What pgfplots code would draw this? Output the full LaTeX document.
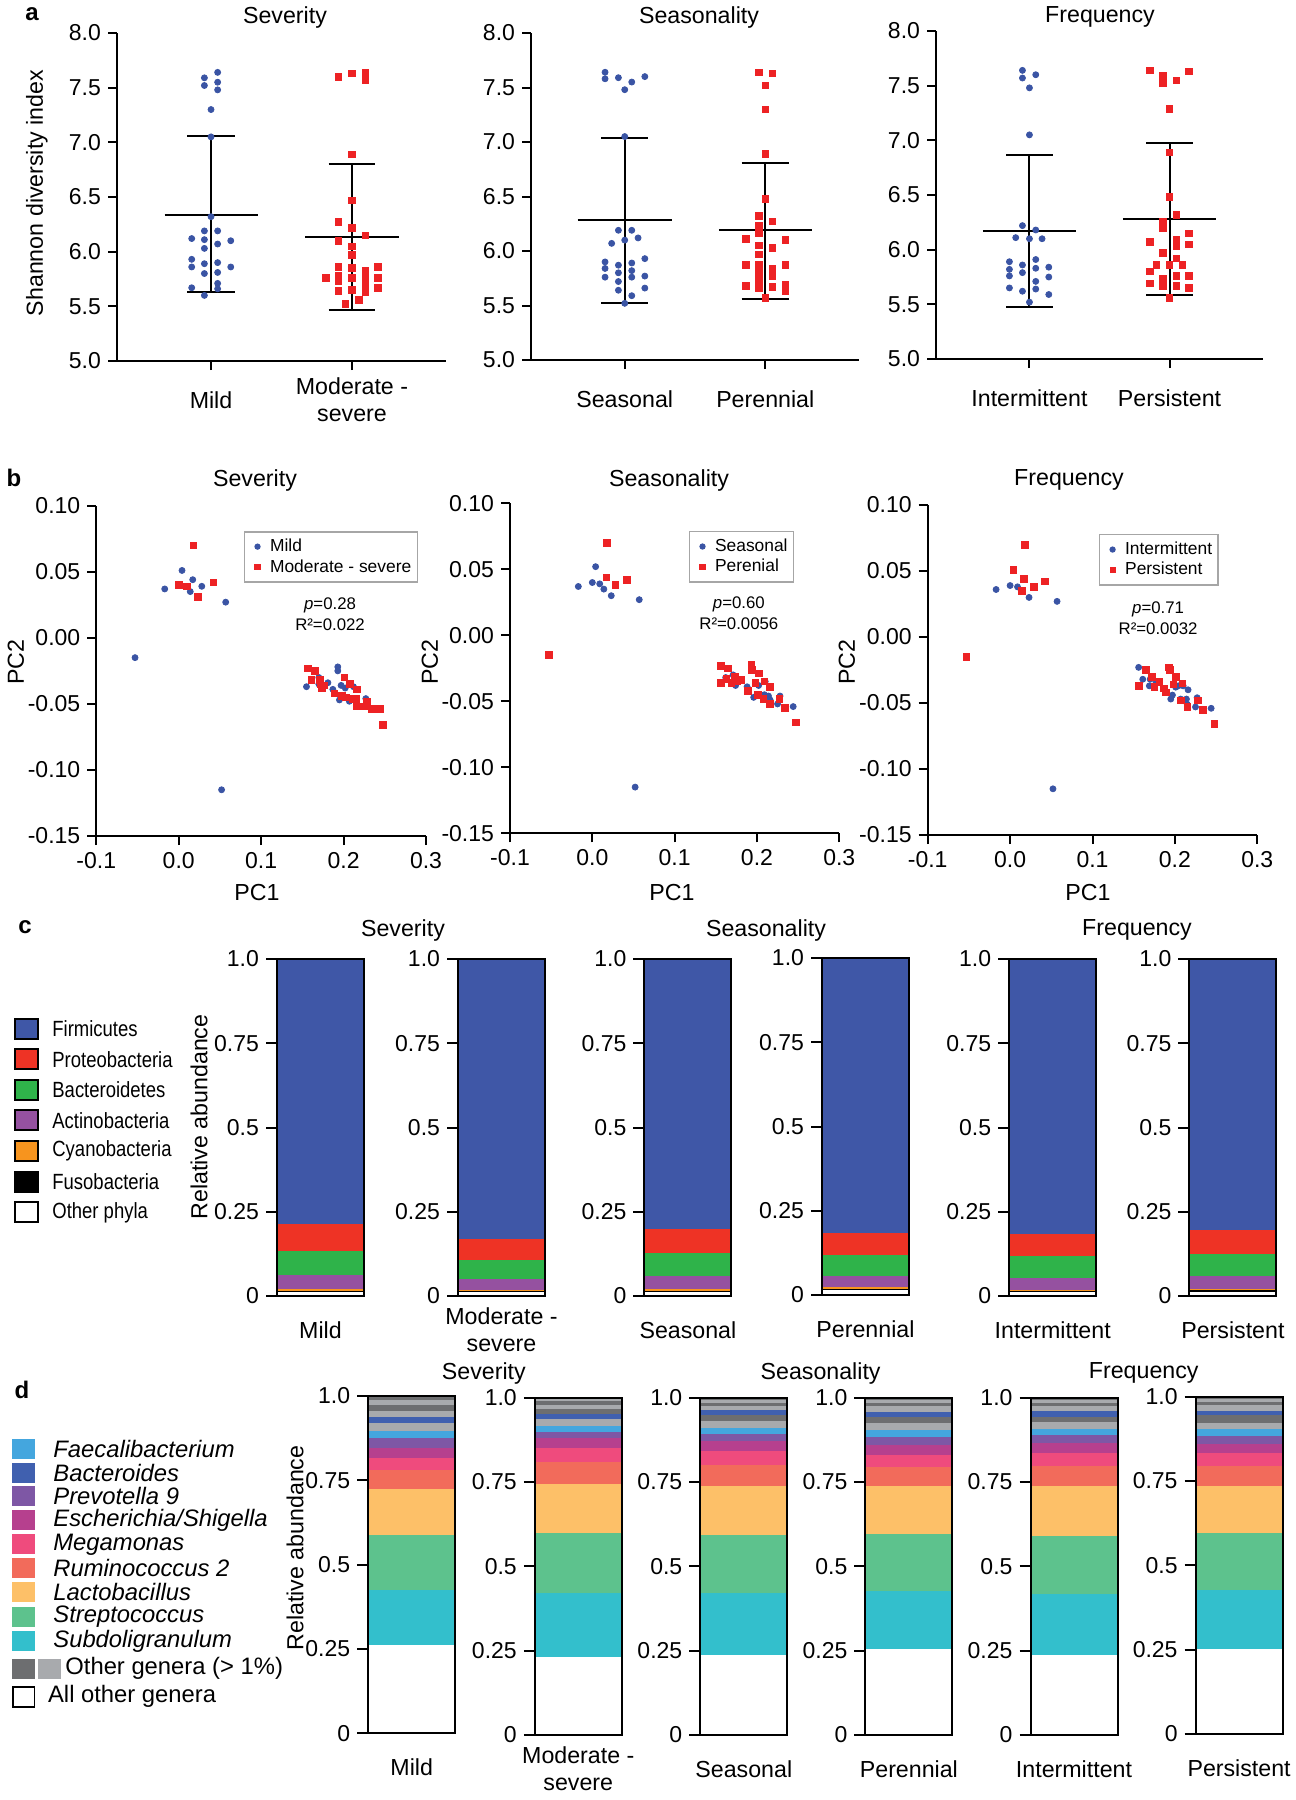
\documentclass[border=0pt]{standalone}
\usepackage{fontspec}
\setmainfont{Liberation Sans}
\newfontfamily\narrowfont[FakeStretch=0.84]{Liberation Sans}
\usepackage{pgfplots}
\pgfplotsset{compat=1.18}

\definecolor{dblue}{HTML}{3A54A4}
\definecolor{dred}{HTML}{ED2224}
\definecolor{cfirm}{HTML}{3F57A7}
\definecolor{cprot}{HTML}{EE3325}
\definecolor{cbact}{HTML}{2FB34A}
\definecolor{cacti}{HTML}{9551A0}
\definecolor{ccyan}{HTML}{F7941E}
\definecolor{cfae}{HTML}{44A6DE}
\definecolor{cbac}{HTML}{4060AF}
\definecolor{cpre}{HTML}{7E57A5}
\definecolor{cesc}{HTML}{B6408E}
\definecolor{cmeg}{HTML}{EF4B7D}
\definecolor{crum}{HTML}{F26B5B}
\definecolor{clac}{HTML}{FDC068}
\definecolor{cstr}{HTML}{5DC28D}
\definecolor{csub}{HTML}{33BFCC}
\definecolor{dgray}{HTML}{6D6E70}
\definecolor{lgray}{HTML}{A8AAAD}

\newcommand{\fsmain}{\fontsize{11.6}{13.6}\selectfont}
\newcommand{\fstick}{\fontsize{11.5}{13.5}\selectfont}
\newcommand{\fsleg}{\fontsize{8.7}{10}\selectfont}
\newcommand{\fsp}{\fontsize{8.4}{10}\selectfont}
\newcommand{\fscleg}{\narrowfont\fontsize{11}{12}\selectfont}
\newcommand{\fsdleg}{\fontsize{11.9}{13.5}\selectfont}

\pgfplotsset{
  common/.style={scale only axis, axis lines*=left, axis line style={line width=1pt, black},
    tick style={black, line width=1pt}, tick align=outside,
    tick label style={font=\fstick}, clip=false},
  aax/.style={common, xmin=-0.667, xmax=1.667, ymin=5, ymax=8, major tick length=4.5pt,
    xtick={0,1}, ytick={5,5.5,6,6.5,7,7.5,8}, yticklabels={5.0,5.5,6.0,6.5,7.0,7.5,8.0},
    xticklabel style={font=\fsmain, anchor=center, align=center, yshift=-15pt}},
  bax/.style={common, xmin=-0.1, xmax=0.3, ymin=-0.15, ymax=0.1, major tick length=4.5pt,
    xtick={-0.1,0,0.1,0.2,0.3}, xticklabels={-0.1,0.0,0.1,0.2,0.3},
    ytick={-0.15,-0.1,-0.05,0,0.05,0.1}, yticklabels={-0.15,-0.10,-0.05,0.00,0.05,0.10},
    legend style={font=\fsleg, draw=gray!70, line width=0.7pt, inner xsep=1pt, inner ysep=1.5pt, anchor=north west, row sep=-1.5pt},
    legend cell align=left,
    legend image code/.code={\path[draw=none, fill=none] (0cm,0cm) -- (0.34cm,0cm); \draw[##1, only marks, mark size=1.2pt] plot coordinates {(0.19cm,0cm)};}},
  barax/.style={common, width=43.5pt, height=168.5pt, xmin=-0.5, xmax=0.5, ymin=0, ymax=1,
    major tick length=5.5pt, ytick={0,0.25,0.5,0.75,1}, yticklabels={0,0.25,0.5,0.75,1.0},
    xtick=\empty, xlabel style={font=\fsmain, anchor=center, align=center, at={(axis description cs:0.5,0)}, yshift=-17pt}},
  seg/.style={ybar, bar width=1, bar shift=0pt, fill=#1, draw=none},
  outl/.style={ybar, bar width=1, bar shift=0pt, fill=none, draw=black, line width=1pt},
  bm/.style={only marks, mark=*, mark size=1.5pt, color=dblue},
  rm/.style={only marks, mark=square*, mark size=1.65pt, color=dred},
  sd/.style={black, line width=1pt, no marks},
}

\begin{document}
\begin{tikzpicture}
\path[use as bounding box] (0,0) rectangle (648pt,-900pt);

%================ Panel a =================
\node[font=\bfseries\fontsize{12}{14}\selectfont] at (16pt,-7pt) {a};
\node[font=\fsmain] at (142.5pt,-8.5pt) {Severity};
\node[font=\fsmain] at (349.5pt,-8.5pt) {Seasonality};
\node[font=\fsmain] at (550pt,-8.5pt) {Frequency};
\node[font=\fsmain, rotate=90] at (18.5pt,-96.5pt) {Shannon diversity index};

\begin{axis}[aax, at={(58.5pt,-180.5pt)}, width=164.5pt, height=164pt, xticklabels={Mild,{Moderate -\\severe}}]
\addplot[bm] coordinates {(0.047,7.64) (-0.047,7.59) (0.047,7.55) (-0.047,7.52) (0.047,7.48) (0,7.30) (0,7.05) (0,6.32) (-0.047,6.19) (0.047,6.19) (-0.137,6.12) (-0.047,6.11) (0.14,6.10) (0.047,6.07) (-0.047,6.03) (-0.137,5.93) (0.047,5.90) (-0.047,5.89) (-0.137,5.86) (0.14,5.86) (0.047,5.81) (-0.047,5.80) (0.047,5.71) (-0.137,5.67) (0.047,5.66) (-0.047,5.60)};
\addplot[rm] coordinates {(0.905,7.60) (1,7.63) (1.095,7.64) (1.095,7.57) (1,6.89) (1,6.47) (0.905,6.27) (1,6.22) (1.095,6.15) (0.905,6.10) (1,6.05) (1,5.97) (0.905,5.86) (1.184,5.86) (1,5.85) (1.095,5.83) (0.813,5.76) (0.905,5.78) (1,5.76) (1.095,5.76) (1.184,5.76) (0.905,5.73) (1.095,5.70) (1,5.65) (1.184,5.67) (0.905,5.64) (1.095,5.63) (1.047,5.56) (0.953,5.52)};
\addplot[sd] coordinates {(-0.33,6.34) (0.33,6.34)};
\addplot[sd] coordinates {(0,5.63) (0,7.06)};
\addplot[sd] coordinates {(-0.168,7.06) (0.168,7.06)};
\addplot[sd] coordinates {(-0.168,5.63) (0.168,5.63)};
\addplot[sd] coordinates {(0.67,6.13) (1.33,6.13)};
\addplot[sd] coordinates {(1,5.47) (1,6.80)};
\addplot[sd] coordinates {(0.835,6.80) (1.165,6.80)};
\addplot[sd] coordinates {(0.835,5.47) (1.165,5.47)};
\end{axis}

\begin{axis}[aax, at={(265.5pt,-180pt)}, width=164pt, height=163.5pt, xticklabels={Seasonal,Perennial}]
\addplot[bm] coordinates {(-0.14,7.64) (-0.14,7.58) (-0.045,7.59) (0.05,7.55) (0.143,7.60) (0,7.48) (0,7.05) (-0.045,6.19) (0.05,6.19) (0.095,6.12) (0,6.10) (-0.093,6.07) (-0.14,5.90) (0.143,5.93) (-0.045,5.87) (0.05,5.89) (-0.14,5.84) (0.05,5.82) (-0.045,5.80) (-0.14,5.76) (0.05,5.76) (0.143,5.77) (-0.045,5.72) (-0.045,5.64) (0.143,5.66) (0.05,5.59) (0,5.52)};
\addplot[rm] coordinates {(0.955,7.64) (1.05,7.63) (1,7.52) (1,7.30) (1,6.89) (1,6.48) (0.955,6.32) (1.05,6.27) (0.955,6.23) (0.955,6.16) (0.862,6.11) (1.143,6.10) (0.955,6.05) (1.05,6.03) (0.955,5.97) (0.862,5.87) (0.955,5.87) (1.143,5.87) (1.05,5.84) (0.955,5.80) (1.05,5.77) (0.955,5.73) (1.143,5.69) (0.862,5.68) (0.955,5.66) (1.05,5.67) (1.143,5.63) (1,5.57)};
\addplot[sd] coordinates {(-0.335,6.28) (0.335,6.28)};
\addplot[sd] coordinates {(0,5.52) (0,7.04)};
\addplot[sd] coordinates {(-0.168,7.04) (0.168,7.04)};
\addplot[sd] coordinates {(-0.168,5.52) (0.168,5.52)};
\addplot[sd] coordinates {(0.67,6.19) (1.33,6.19)};
\addplot[sd] coordinates {(1,5.56) (1,6.81)};
\addplot[sd] coordinates {(0.832,6.81) (1.168,6.81)};
\addplot[sd] coordinates {(0.832,5.56) (1.168,5.56)};
\end{axis}

\begin{axis}[aax, at={(468pt,-179.5pt)}, width=163.5pt, height=164pt, xticklabels={Intermittent,Persistent}]
\addplot[bm] coordinates {(-0.05,7.64) (-0.05,7.57) (0.045,7.60) (0,7.48) (0,7.05) (-0.05,6.22) (0.045,6.18) (-0.098,6.11) (0,6.10) (0.09,6.10) (-0.143,5.89) (0.045,5.91) (-0.05,5.86) (-0.143,5.82) (0.045,5.83) (0.138,5.84) (-0.05,5.79) (-0.143,5.76) (0.138,5.75) (0.045,5.71) (-0.143,5.65) (0.045,5.64) (-0.05,5.62) (0.138,5.59) (0,5.52)};
\addplot[rm] coordinates {(0.86,7.64) (0.952,7.59) (0.952,7.52) (1.048,7.55) (1.14,7.63) (1,7.29) (1,6.89) (1,6.48) (1.048,6.32) (0.952,6.26) (0.952,6.20) (1.14,6.15) (0.86,6.07) (1.048,6.09) (1.14,6.05) (1.048,6.03) (0.952,5.97) (1.048,5.92) (0.907,5.86) (1,5.86) (1.093,5.86) (0.86,5.80) (1.048,5.76) (1.14,5.76) (0.952,5.73) (0.86,5.69) (0.952,5.67) (1.048,5.67) (1.14,5.65) (1,5.56)};
\addplot[sd] coordinates {(-0.333,6.17) (0.333,6.17)};
\addplot[sd] coordinates {(0,5.48) (0,6.87)};
\addplot[sd] coordinates {(-0.167,6.87) (0.167,6.87)};
\addplot[sd] coordinates {(-0.167,5.48) (0.167,5.48)};
\addplot[sd] coordinates {(0.667,6.28) (1.333,6.28)};
\addplot[sd] coordinates {(1,5.59) (1,6.98)};
\addplot[sd] coordinates {(0.833,6.98) (1.167,6.98)};
\addplot[sd] coordinates {(0.833,5.59) (1.167,5.59)};
\end{axis}

%================ Panel b =================
\node[font=\bfseries\fontsize{12}{14}\selectfont] at (7pt,-239pt) {b};
\node[font=\fsmain] at (127.5pt,-240pt) {Severity};
\node[font=\fsmain] at (334.5pt,-240pt) {Seasonality};
\node[font=\fsmain] at (534.5pt,-240pt) {Frequency};
\node[font=\fsmain, rotate=90] at (8pt,-331pt) {PC2};
\node[font=\fsmain, rotate=90] at (215pt,-331pt) {PC2};
\node[font=\fsmain, rotate=90] at (423.5pt,-331pt) {PC2};
\node[font=\fsmain] at (128.5pt,-446.5pt) {PC1};
\node[font=\fsmain] at (336pt,-446.5pt) {PC1};
\node[font=\fsmain] at (544pt,-446.5pt) {PC1};

\begin{axis}[bax, at={(48.15pt,-418pt)}, width=164.85pt, height=165.15pt, legend style={at={(0.448,0.923)}}]
\addplot[bm] coordinates {(0.004,0.051) (0.017,0.044) (-0.017,0.037) (0.028,0.039) (0.014,0.035) (0.057,0.027) (-0.053,-0.015) (0.052,-0.115) (0.193,-0.022) (0.193,-0.025) (0.155,-0.037) (0.170,-0.030) (0.181,-0.034) (0.175,-0.038) (0.187,-0.039) (0.197,-0.036) (0.202,-0.038) (0.195,-0.047) (0.207,-0.048) (0.216,-0.051) (0.227,-0.046) (0.212,-0.037) (0.170,-0.035)};
\addlegendentry{Mild}
\addplot[rm] coordinates {(0.018,0.070) (0.0,0.040) (0.010,0.039) (0.023,0.031) (0.042,0.042) (0.157,-0.023) (0.165,-0.025) (0.161,-0.032) (0.171,-0.032) (0.172,-0.035) (0.176,-0.036) (0.174,-0.038) (0.201,-0.030) (0.189,-0.042) (0.198,-0.044) (0.208,-0.035) (0.216,-0.039) (0.203,-0.045) (0.211,-0.046) (0.215,-0.046) (0.228,-0.048) (0.216,-0.052) (0.225,-0.052) (0.234,-0.054) (0.244,-0.054) (0.248,-0.066)};
\addlegendentry{Moderate - severe}
\node[font=\fsp] at (rel axis cs:0.709,0.699) {\textit{p}=0.28};
\node[font=\fsp] at (rel axis cs:0.709,0.639) {R²=0.022};
\end{axis}

\begin{axis}[bax, at={(255pt,-416.65pt)}, width=164.65pt, height=165pt, legend style={at={(0.5436,0.916)}}]
\addplot[bm] coordinates {(0.004,0.052) (-0.017,0.037) (0.0,0.040) (0.009,0.039) (0.014,0.035) (0.023,0.030) (0.057,0.027) (0.052,-0.115) (0.162,-0.032) (0.171,-0.030) (0.174,-0.038) (0.188,-0.039) (0.196,-0.047) (0.202,-0.038) (0.210,-0.035) (0.214,-0.046) (0.216,-0.049) (0.225,-0.052) (0.228,-0.046) (0.244,-0.054) (0.209,-0.045)};
\addlegendentry{Seasonal}
\addplot[rm] coordinates {(0.018,0.070) (0.017,0.044) (0.028,0.038) (0.042,0.042) (-0.053,-0.015) (0.156,-0.023) (0.165,-0.025) (0.156,-0.036) (0.163,-0.033) (0.173,-0.031) (0.169,-0.036) (0.176,-0.035) (0.181,-0.034) (0.193,-0.022) (0.194,-0.026) (0.202,-0.029) (0.198,-0.036) (0.189,-0.042) (0.201,-0.045) (0.208,-0.048) (0.209,-0.035) (0.216,-0.039) (0.216,-0.052) (0.227,-0.048) (0.234,-0.055) (0.247,-0.066)};
\addlegendentry{Perenial}
\node[font=\fsp] at (rel axis cs:0.695,0.695) {\textit{p}=0.60};
\node[font=\fsp] at (rel axis cs:0.695,0.634) {R²=0.0056};
\end{axis}

\begin{axis}[bax, at={(463.85pt,-417.5pt)}, width=164.8pt, height=165pt, legend style={at={(0.52,0.912)}}]
\addplot[bm] coordinates {(-0.017,0.036) (0.0,0.039) (0.009,0.038) (0.023,0.030) (0.057,0.027) (0.052,-0.115) (0.156,-0.023) (0.161,-0.032) (0.170,-0.032) (0.169,-0.037) (0.177,-0.035) (0.195,-0.047) (0.197,-0.044) (0.201,-0.038) (0.204,-0.037) (0.210,-0.037) (0.216,-0.040) (0.207,-0.047) (0.214,-0.047) (0.215,-0.051) (0.225,-0.053) (0.227,-0.046) (0.244,-0.054)};
\addlegendentry{Intermittent}
\addplot[rm] coordinates {(0.018,0.070) (0.004,0.051) (0.017,0.044) (0.014,0.035) (0.029,0.038) (0.042,0.042) (-0.053,-0.015) (0.156,-0.037) (0.165,-0.025) (0.172,-0.030) (0.175,-0.038) (0.181,-0.034) (0.187,-0.039) (0.189,-0.042) (0.193,-0.023) (0.194,-0.025) (0.201,-0.030) (0.198,-0.036) (0.209,-0.035) (0.207,-0.048) (0.215,-0.053) (0.228,-0.048) (0.234,-0.055) (0.248,-0.066)};
\addlegendentry{Persistent}
\node[font=\fsp] at (rel axis cs:0.699,0.685) {\textit{p}=0.71};
\node[font=\fsp] at (rel axis cs:0.699,0.624) {R²=0.0032};
\end{axis}

%================ Panel c =================
\node[font=\bfseries\fontsize{12}{14}\selectfont] at (12.5pt,-463.5pt) {c};
\node[font=\fsmain] at (201.5pt,-465pt) {Severity};
\node[font=\fsmain] at (383pt,-465pt) {Seasonality};
\node[font=\fsmain] at (568.5pt,-465pt) {Frequency};
\node[font=\fsmain, rotate=90] at (99.5pt,-558.5pt) {Relative abundance};

\foreach \yy/\cc/\tt in {514.35/cfirm/Firmicutes, 529.65/cprot/Proteobacteria, 545/cbact/Bacteroidetes, 560.15/cacti/Actinobacteria, 575.5/ccyan/Cyanobacteria, 590.85/black/Fusobacteria, 606.15/white/Other phyla}{
  \draw[fill=\cc, line width=0.9pt] (7.5pt,-\yy pt+5pt) rectangle (19pt,-\yy pt-5pt);
  \node[font=\fscleg, anchor=west, inner sep=0pt] at (26pt,-\yy pt) {\tt};
}

\begin{axis}[barax, at={(138.5pt,-648pt)}, xlabel={Mild}]
\addplot[seg=cfirm] coordinates {(0,1)};
\addplot[seg=cprot] coordinates {(0,0.213)};
\addplot[seg=cbact] coordinates {(0,0.135)};
\addplot[seg=cacti] coordinates {(0,0.062)};
\addplot[seg=ccyan] coordinates {(0,0.020)};
\addplot[seg=black] coordinates {(0,0.015)};
\addplot[seg=white] coordinates {(0,0.012)};
\addplot[outl] coordinates {(0,1)};
\end{axis}
\begin{axis}[barax, at={(229pt,-648pt)}, xlabel={Moderate -\\severe}]
\addplot[seg=cfirm] coordinates {(0,1)};
\addplot[seg=cprot] coordinates {(0,0.169)};
\addplot[seg=cbact] coordinates {(0,0.108)};
\addplot[seg=cacti] coordinates {(0,0.051)};
\addplot[seg=ccyan] coordinates {(0,0.019)};
\addplot[seg=black] coordinates {(0,0.015)};
\addplot[seg=white] coordinates {(0,0.012)};
\addplot[outl] coordinates {(0,1)};
\end{axis}
\begin{axis}[barax, at={(322.2pt,-648pt)}, xlabel={Seasonal}]
\addplot[seg=cfirm] coordinates {(0,1)};
\addplot[seg=cprot] coordinates {(0,0.198)};
\addplot[seg=cbact] coordinates {(0,0.127)};
\addplot[seg=cacti] coordinates {(0,0.060)};
\addplot[seg=ccyan] coordinates {(0,0.020)};
\addplot[seg=black] coordinates {(0,0.015)};
\addplot[seg=white] coordinates {(0,0.012)};
\addplot[outl] coordinates {(0,1)};
\end{axis}
\begin{axis}[barax, at={(411pt,-647.5pt)}, xlabel={Perennial}]
\addplot[seg=cfirm] coordinates {(0,1)};
\addplot[seg=cprot] coordinates {(0,0.184)};
\addplot[seg=cbact] coordinates {(0,0.119)};
\addplot[seg=cacti] coordinates {(0,0.057)};
\addplot[seg=ccyan] coordinates {(0,0.024)};
\addplot[seg=black] coordinates {(0,0.018)};
\addplot[seg=white] coordinates {(0,0.014)};
\addplot[outl] coordinates {(0,1)};
\end{axis}
\begin{axis}[barax, at={(504.6pt,-648pt)}, xlabel={Intermittent}]
\addplot[seg=cfirm] coordinates {(0,1)};
\addplot[seg=cprot] coordinates {(0,0.183)};
\addplot[seg=cbact] coordinates {(0,0.119)};
\addplot[seg=cacti] coordinates {(0,0.054)};
\addplot[seg=ccyan] coordinates {(0,0.018)};
\addplot[seg=black] coordinates {(0,0.014)};
\addplot[seg=white] coordinates {(0,0.011)};
\addplot[outl] coordinates {(0,1)};
\end{axis}
\begin{axis}[barax, at={(594.7pt,-648pt)}, xlabel={Persistent}]
\addplot[seg=cfirm] coordinates {(0,1)};
\addplot[seg=cprot] coordinates {(0,0.196)};
\addplot[seg=cbact] coordinates {(0,0.124)};
\addplot[seg=cacti] coordinates {(0,0.060)};
\addplot[seg=ccyan] coordinates {(0,0.022)};
\addplot[seg=black] coordinates {(0,0.017)};
\addplot[seg=white] coordinates {(0,0.013)};
\addplot[outl] coordinates {(0,1)};
\end{axis}

%================ Panel d =================
\node[font=\bfseries\fontsize{12}{14}\selectfont] at (11pt,-695pt) {d};
\node[font=\fsmain] at (241.9pt,-686.5pt) {Severity};
\node[font=\fsmain] at (410.3pt,-686.5pt) {Seasonality};
\node[font=\fsmain] at (571.85pt,-686.5pt) {Frequency};
\node[font=\fsmain, rotate=90] at (147.5pt,-774pt) {Relative abundance};

\foreach \yy/\cc/\tt in {724.35/cfae/Faecalibacterium, 736.35/cbac/Bacteroides, 748.15/cpre/Prevotella 9, 760.15/cesc/Escherichia\slash Shigella, 772.15/cmeg/Megamonas, 784.15/crum/Ruminococcus 2, 796.15/clac/Lactobacillus, 808.35/cstr/Streptococcus, 820.5/csub/Subdoligranulum}{
  \fill[\cc] (6.2pt,-\yy pt+5pt) rectangle (17.6pt,-\yy pt-5pt);
  \node[font=\fsdleg\itshape, anchor=west, inner sep=0pt] at (26.5pt,-\yy pt) {\tt};
}
\fill[dgray] (6.2pt,-829.35pt) rectangle (17.6pt,-839.35pt);
\fill[lgray] (19.05pt,-829.35pt) rectangle (30.5pt,-839.35pt);
\node[font=\fsdleg, anchor=west, inner sep=0pt] at (32.5pt,-834.35pt) {Other genera (> 1\%)};
\draw[line width=0.8pt] (6.6pt,-843.35pt) rectangle (17.2pt,-853.35pt);
\node[font=\fsdleg, anchor=west, inner sep=0pt] at (23.85pt,-848.35pt) {All other genera};

\begin{axis}[barax, width=43.5pt, height=168.75pt, at={(184.1pt,-866.65pt)}, xlabel={Mild}]
\addplot[seg=dgray] coordinates {(0,1)};
\addplot[seg=lgray] coordinates {(0,0.989)};
\addplot[seg=dgray] coordinates {(0,0.972)};
\addplot[seg=lgray] coordinates {(0,0.956)};
\addplot[seg=cbac] coordinates {(0,0.937)};
\addplot[seg=lgray] coordinates {(0,0.918)};
\addplot[seg=cfae] coordinates {(0,0.897)};
\addplot[seg=cpre] coordinates {(0,0.875)};
\addplot[seg=cesc] coordinates {(0,0.845)};
\addplot[seg=cmeg] coordinates {(0,0.817)};
\addplot[seg=crum] coordinates {(0,0.781)};
\addplot[seg=clac] coordinates {(0,0.725)};
\addplot[seg=cstr] coordinates {(0,0.588)};
\addplot[seg=csub] coordinates {(0,0.425)};
\addplot[seg=white] coordinates {(0,0.262)};
\addplot[outl] coordinates {(0,1)};
\end{axis}
\begin{axis}[barax, width=43.5pt, height=168.75pt, at={(267.4pt,-867.5pt)}, xlabel={Moderate -\\severe}]
\addplot[seg=lgray] coordinates {(0,1)};
\addplot[seg=dgray] coordinates {(0,0.990)};
\addplot[seg=lgray] coordinates {(0,0.978)};
\addplot[seg=dgray] coordinates {(0,0.965)};
\addplot[seg=cbac] coordinates {(0,0.951)};
\addplot[seg=lgray] coordinates {(0,0.935)};
\addplot[seg=cfae] coordinates {(0,0.916)};
\addplot[seg=cpre] coordinates {(0,0.898)};
\addplot[seg=cesc] coordinates {(0,0.879)};
\addplot[seg=cmeg] coordinates {(0,0.851)};
\addplot[seg=crum] coordinates {(0,0.809)};
\addplot[seg=clac] coordinates {(0,0.745)};
\addplot[seg=cstr] coordinates {(0,0.599)};
\addplot[seg=csub] coordinates {(0,0.421)};
\addplot[seg=white] coordinates {(0,0.232)};
\addplot[outl] coordinates {(0,1)};
\end{axis}
\begin{axis}[barax, width=43.5pt, height=168.75pt, at={(350.15pt,-867.5pt)}, xlabel={Seasonal}]
\addplot[seg=dgray] coordinates {(0,1)};
\addplot[seg=lgray] coordinates {(0,0.993)};
\addplot[seg=dgray] coordinates {(0,0.985)};
\addplot[seg=lgray] coordinates {(0,0.975)};
\addplot[seg=cbac] coordinates {(0,0.962)};
\addplot[seg=dgray] coordinates {(0,0.947)};
\addplot[seg=lgray] coordinates {(0,0.929)};
\addplot[seg=cfae] coordinates {(0,0.909)};
\addplot[seg=cpre] coordinates {(0,0.892)};
\addplot[seg=cesc] coordinates {(0,0.870)};
\addplot[seg=cmeg] coordinates {(0,0.842)};
\addplot[seg=crum] coordinates {(0,0.799)};
\addplot[seg=clac] coordinates {(0,0.737)};
\addplot[seg=cstr] coordinates {(0,0.594)};
\addplot[seg=csub] coordinates {(0,0.421)};
\addplot[seg=white] coordinates {(0,0.237)};
\addplot[outl] coordinates {(0,1)};
\end{axis}
\begin{axis}[barax, width=43.5pt, height=168.75pt, at={(432.7pt,-867.5pt)}, xlabel={Perennial}]
\addplot[seg=dgray] coordinates {(0,1)};
\addplot[seg=lgray] coordinates {(0,0.993)};
\addplot[seg=dgray] coordinates {(0,0.985)};
\addplot[seg=lgray] coordinates {(0,0.975)};
\addplot[seg=cbac] coordinates {(0,0.956)};
\addplot[seg=dgray] coordinates {(0,0.941)};
\addplot[seg=lgray] coordinates {(0,0.924)};
\addplot[seg=cfae] coordinates {(0,0.904)};
\addplot[seg=cpre] coordinates {(0,0.882)};
\addplot[seg=cesc] coordinates {(0,0.860)};
\addplot[seg=cmeg] coordinates {(0,0.830)};
\addplot[seg=crum] coordinates {(0,0.794)};
\addplot[seg=clac] coordinates {(0,0.738)};
\addplot[seg=cstr] coordinates {(0,0.597)};
\addplot[seg=csub] coordinates {(0,0.426)};
\addplot[seg=white] coordinates {(0,0.255)};
\addplot[outl] coordinates {(0,1)};
\end{axis}
\begin{axis}[barax, width=43.5pt, height=168.75pt, at={(515.25pt,-867.5pt)}, xlabel={Intermittent}]
\addplot[seg=dgray] coordinates {(0,1)};
\addplot[seg=lgray] coordinates {(0,0.993)};
\addplot[seg=dgray] coordinates {(0,0.985)};
\addplot[seg=lgray] coordinates {(0,0.975)};
\addplot[seg=cbac] coordinates {(0,0.959)};
\addplot[seg=dgray] coordinates {(0,0.942)};
\addplot[seg=lgray] coordinates {(0,0.926)};
\addplot[seg=cfae] coordinates {(0,0.907)};
\addplot[seg=cpre] coordinates {(0,0.888)};
\addplot[seg=cesc] coordinates {(0,0.865)};
\addplot[seg=cmeg] coordinates {(0,0.835)};
\addplot[seg=crum] coordinates {(0,0.798)};
\addplot[seg=clac] coordinates {(0,0.739)};
\addplot[seg=cstr] coordinates {(0,0.591)};
\addplot[seg=csub] coordinates {(0,0.418)};
\addplot[seg=white] coordinates {(0,0.236)};
\addplot[outl] coordinates {(0,1)};
\end{axis}
\begin{axis}[barax, width=43.5pt, height=168.75pt, at={(597.8pt,-867pt)}, xlabel={Persistent}]
\addplot[seg=dgray] coordinates {(0,1)};
\addplot[seg=lgray] coordinates {(0,0.993)};
\addplot[seg=dgray] coordinates {(0,0.985)};
\addplot[seg=lgray] coordinates {(0,0.975)};
\addplot[seg=cbac] coordinates {(0,0.958)};
\addplot[seg=dgray] coordinates {(0,0.944)};
\addplot[seg=lgray] coordinates {(0,0.922)};
\addplot[seg=cfae] coordinates {(0,0.904)};
\addplot[seg=cpre] coordinates {(0,0.883)};
\addplot[seg=cesc] coordinates {(0,0.860)};
\addplot[seg=cmeg] coordinates {(0,0.832)};
\addplot[seg=crum] coordinates {(0,0.794)};
\addplot[seg=clac] coordinates {(0,0.735)};
\addplot[seg=cstr] coordinates {(0,0.597)};
\addplot[seg=csub] coordinates {(0,0.428)};
\addplot[seg=white] coordinates {(0,0.253)};
\addplot[outl] coordinates {(0,1)};
\end{axis}

\end{tikzpicture}
\end{document}
